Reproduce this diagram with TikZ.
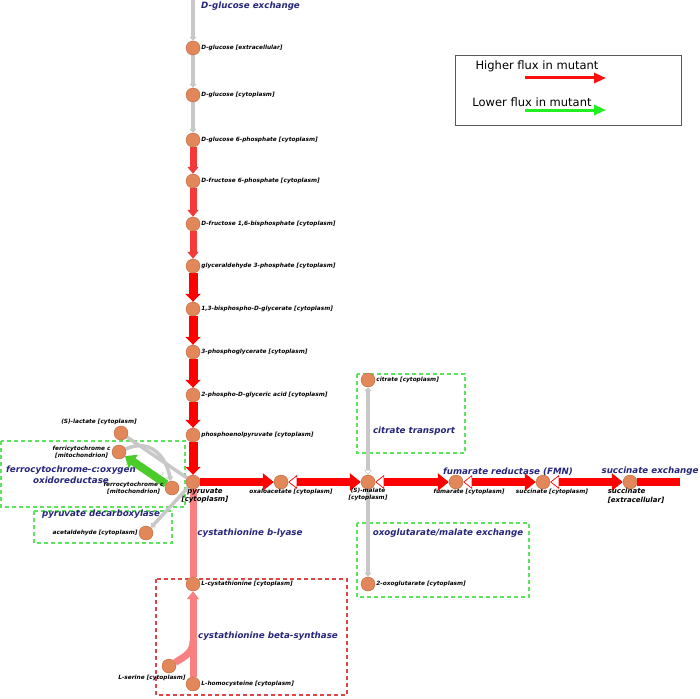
\documentclass[tikz,border=0pt]{standalone}
\usepackage{fontspec}
\setmainfont{DejaVu Sans}[ItalicFont={DejaVu Sans Oblique},BoldFont={DejaVu Sans Bold},BoldItalicFont={DejaVu Sans Bold Oblique}]
\usetikzlibrary{arrows.meta,positioning,backgrounds}
\definecolor{metfill}{HTML}{E2875A}
\definecolor{metdraw}{HTML}{B8683C}
\definecolor{rxnblue}{HTML}{26267A}
\definecolor{upredlt}{HTML}{F23A3A}
\definecolor{pinkred}{HTML}{F88080}
\definecolor{flowgray}{HTML}{C8C8C8}
\definecolor{downgreen}{HTML}{4CCC2A}
\definecolor{legupred}{HTML}{FF1010}
\definecolor{legdowngreen}{HTML}{22EE22}
\definecolor{boxgreen}{HTML}{5EE35E}
\definecolor{boxred}{HTML}{E04545}
\tikzset{
  met/.style={circle,fill=metfill,draw=metdraw,line width=0.4pt,minimum size=14pt,inner sep=0pt},
  metlab/.style={font=\fontsize{5.8}{6.6}\selectfont\bfseries\itshape,text=black,inner sep=1pt},
  biglab/.style={font=\fontsize{7}{8.5}\selectfont\bfseries\itshape,text=black,inner sep=1pt},
  rxn/.style={font=\fontsize{8.7}{10.6}\selectfont\bfseries\itshape,text=rxnblue,inner sep=0pt},
  legtxt/.style={font=\fontsize{11.5}{13}\selectfont,inner sep=0pt},
  stoich/.style={font=\fontsize{4}{4}\selectfont,inner sep=0pt},
  grnbox/.style={draw=boxgreen,line width=1.3pt,dash pattern=on 4pt off 3pt},
  redbox/.style={draw=boxred,line width=1.2pt,dash pattern=on 4pt off 3pt},
  grayline/.style={draw=flowgray,line width=3.5pt},
  grayflow/.style={grayline,-{Triangle[length=4pt,width=7pt]}},
  grayrev/.style={grayline,{Triangle[open,fill=white,length=5pt,width=8pt,line width=0.5pt]}-{Triangle[length=4pt,width=7pt]}},
  redlt/.style={draw=upredlt,line width=7pt,-{Triangle[length=7pt,width=11pt]}},
  redv/.style={draw=red,line width=9pt,-{Triangle[length=8pt,width=15pt]}},
  redh/.style={draw=red,line width=8pt,-{Triangle[length=11pt,width=17pt]}},
  redrev/.style={draw=red,line width=8pt,{Triangle[open,fill=white,length=9pt,width=14pt,line width=0.7pt]}-{Triangle[length=11pt,width=17pt]}},
  redbar/.style={draw=red,line width=8pt},
  pinkbar/.style={draw=pinkred,line width=7pt},
  pinkarr/.style={pinkbar,-{Triangle[length=8pt,width=12pt]}},
  greenarr/.style={draw=downgreen,line width=8pt,-{Triangle[length=10pt,width=16pt]}},
  legarr/.style={line width=3pt,-{Triangle[length=12pt,width=10pt]}}
}
\begin{document}
\begin{tikzpicture}[x=1pt,y=-1pt]
\useasboundingbox (0,0) rectangle (700,698);

% legend
\draw[draw=black!65,line width=0.8pt] (455,55) rectangle (681,125);
\node[legtxt] (hitxt) at (537,66) {Higher flux in mutant};
\coordinate (hia) at (525,78);
\coordinate (hib) at (606,78);
\draw[legarr,draw=legupred] (hia) -- (hib);
\node[legtxt] (lotxt) at (532,102) {Lower flux in mutant};
\coordinate (loa) at (525,110);
\coordinate (lob) at (606,110);
\draw[legarr,draw=legdowngreen] (loa) -- (lob);

% glycolysis column
\coordinate (gtop) at (193,0);
\node[met] (gex) at (193,48) {};
\node[metlab,right=0pt of gex] (gexl) {D-glucose [extracellular]};
\node[met] (gcy) at (193,95) {};
\node[metlab,right=0pt of gcy] (gcyl) {D-glucose [cytoplasm]};
\node[met] (g6p) at (193,140) {};
\node[metlab,right=0pt of g6p] (g6pl) {D-glucose 6-phosphate [cytoplasm]};
\node[met] (f6p) at (193,181) {};
\node[metlab,right=0pt of f6p] (f6pl) {D-fructose 6-phosphate [cytoplasm]};
\node[met] (fbp) at (193,224) {};
\node[metlab,right=0pt of fbp] (fbpl) {D-fructose 1,6-bisphosphate [cytoplasm]};
\node[met] (gap) at (193,266) {};
\node[metlab,right=0pt of gap] (gapl) {glyceraldehyde 3-phosphate [cytoplasm]};
\node[met] (bpg) at (193,309) {};
\node[metlab,right=0pt of bpg] (bpgl) {1,3-bisphospho-D-glycerate [cytoplasm]};
\node[met] (pgc) at (193,352) {};
\node[metlab,right=0pt of pgc] (pgcl) {3-phosphoglycerate [cytoplasm]};
\node[met] (pga) at (193,395) {};
\node[metlab,right=0pt of pga] (pgal) {2-phospho-D-glyceric acid [cytoplasm]};
\node[met] (pep) at (193,435) {};
\node[metlab,right=0pt of pep] (pepl) {phosphoenolpyruvate [cytoplasm]};
\node[met] (pyr) at (193,482) {};
\node[biglab,align=center,below=-2pt of pyr,xshift=12pt] (pyrl) {pyruvate\\{}[cytoplasm]};

% row to succinate
\node[met] (oxa) at (281,482) {};
\node[metlab,below=-1.5pt of oxa,xshift=10pt] (oxal) {oxaloacetate [cytoplasm]};
\node[met] (mal) at (368,482) {};
\node[metlab,align=center,below=-2pt of mal] (mall) {(S)-malate\\{}[cytoplasm]};
\node[met] (fum) at (456,482) {};
\node[metlab,below=-1.5pt of fum,xshift=13pt] (fuml) {fumarate [cytoplasm]};
\node[met] (suc) at (543,482) {};
\node[metlab,below=-1.5pt of suc,xshift=9pt] (sucl) {succinate [cytoplasm]};
\node[met] (sucx) at (630,482) {};
\node[biglab,align=left,below=-2pt of sucx,xshift=6pt] (sucxl) {succinate\\{}[extracellular]};
\coordinate (sucout) at (680,482);

% malate branches
\node[met] (cit) at (368,380) {};
\node[metlab,right=0pt of cit] (citl) {citrate [cytoplasm]};
\node[met] (oxg) at (368,584) {};
\node[metlab,right=0pt of oxg] (oxgl) {2-oxoglutarate [cytoplasm]};

% cystathionine
\node[met] (cys) at (193,584) {};
\node[metlab,right=0pt of cys] (cysl) {L-cystathionine [cytoplasm]};
\node[met] (hcy) at (193,684) {};
\node[metlab,right=0pt of hcy] (hcyl) {L-homocysteine [cytoplasm]};
\node[met] (ser) at (169,666) {};
\node[metlab,below=1pt of ser,xshift=-17pt] (serl) {L-serine [cytoplasm]};
\coordinate (serjoin) at (193,641);

% left cluster
\node[met] (lac) at (121,433) {};
\node[metlab,above=0pt of lac,xshift=-22pt] (lacl) {(S)-lactate [cytoplasm]};
\node[met] (ferri) at (119,452) {};
\node[metlab,align=center,left=0pt of ferri] (ferril) {ferricytochrome c\\{}[mitochondrion]};
\node[met] (ferro) at (172,488) {};
\node[metlab,align=center,left=0pt of ferro] (ferrol) {ferrocytochrome c\\{}[mitochondrion]};
\node[met] (acet) at (146,533) {};
\node[metlab,left=0pt of acet] (acetl) {acetaldehyde [cytoplasm]};

% reaction names
\node[rxn,anchor=west] (glcex) at (201,6) {D-glucose exchange};
\node[rxn,align=center] (oxido) at (71,475) {ferrocytochrome-c:oxygen\\oxidoreductase};
\node[rxn] (pdc) at (101,514) {pyruvate decarboxylase};
\node[rxn] (cbl) at (250,533) {cystathionine b-lyase};
\node[rxn] (cbs) at (268,636) {cystathionine beta-synthase};
\node[rxn] (cittr) at (414,431) {citrate transport};
\node[rxn] (oxgex) at (448,533) {oxoglutarate/malate exchange};
\node[rxn] (fumred) at (508,472) {fumarate reductase (FMN)};
\node[rxn] (sucex) at (650,471) {succinate exchange};

% boxes and fluxes behind the nodes
\begin{scope}[on background layer]
\draw[grnbox] (1,441) rectangle (185,507);
\draw[grnbox] (34,511) rectangle (172,543);
\draw[grnbox] (357,374) rectangle (465,453);
\draw[grnbox] (357,523) rectangle (529,597);
\draw[redbox] (156,579) rectangle (347,695);
\draw[grayflow] (gtop) -- (gex);
\draw[grayflow] (gex) -- (gcy);
\draw[grayflow] (gcy) -- (g6p);
\draw[redlt] (g6p) -- (f6p);
\draw[redlt] (f6p) -- (fbp);
\draw[redlt] (fbp) -- (gap);
\draw[redv] (gap) -- (bpg);
\draw[redv] (bpg) -- (pgc);
\draw[redv] (pgc) -- (pga);
\draw[redv] (pga) -- (pep);
\draw[redv] (pep) -- (pyr);
\draw[redh] (pyr) -- (oxa);
\draw[redrev] (oxa) -- (mal);
\draw[redrev] (mal) -- (fum);
\draw[redrev] (fum) -- (suc);
\draw[redrev] (suc) -- (sucx);
\draw[redbar] (sucx) -- (sucout);
\draw[grayrev] (mal) -- (cit);
\draw[grayflow] (mal) -- (oxg);
\draw[pinkbar] (pyr) -- (cys);
\draw[pinkarr] (hcy) -- (cys);
\draw[pinkbar] (ser) .. controls (186,656) and (193,652) .. (serjoin);
\draw[grayline] (lac) -- (pyr);
\draw[grayflow] (pyr) -- (acet);
\draw[grayflow] (ferri) .. controls (150,438) and (166,456) .. (ferro);
\draw[greenarr] (ferro) -- (ferri);
\end{scope}
\node[stoich,text=black!30] (st1) at (163,474) {2};
\node[stoich,text=downgreen!70] (st2) at (127,464) {2};
\end{tikzpicture}
\end{document}
